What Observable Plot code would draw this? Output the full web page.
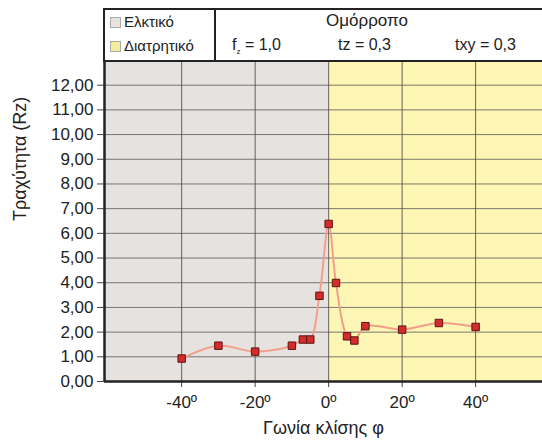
<!DOCTYPE html>
<html>
<head>
<meta charset="utf-8">
<script src="https://cdn.jsdelivr.net/npm/d3@7"></script>
<script src="https://cdn.jsdelivr.net/npm/@observablehq/plot@0.6"></script>
<style>
  html, body { margin: 0; padding: 0; background: #fff; }
  #wrap { position: relative; width: 542px; height: 441px; overflow: hidden; font-family: "Liberation Sans", Arial, sans-serif; }
  #head { position: absolute; left: 103px; top: 8px; width: 460px; height: 50px; border: 2px solid #222; background: #fff; }
  #legend { position: absolute; left: 0; top: 0; width: 109px; height: 50px; border-right: 2px solid #222; font-size: 15px; color: #222; }
  .li { position: absolute; left: 5px; height: 20px; line-height: 20px; white-space: nowrap; }
  .sw { display: inline-block; width: 9px; height: 9px; border: 1px solid #aaa; margin-right: 3px; vertical-align: -1px; }
  .ht { position: absolute; font-size: 16px; color: #222; white-space: nowrap; }
</style>
</head>
<body>
<div id="wrap"></div>
<script>
// ---- data ----
const angles = [-40, -30, -20, -10, -7, -5, -2.5, 0, 2, 5, 7, 10, 20, 30, 40];
const roughness = [0.93, 1.45, 1.21, 1.45, 1.70, 1.70, 3.47, 6.38, 3.99, 1.83, 1.66, 2.24, 2.10, 2.37, 2.21];
const yTicks = [0, 1, 2, 3, 4, 5, 6, 7, 8, 9, 10, 11, 12];
const xTicks = [-40, -20, 0, 20, 40];
const legendLabels = ["Ελκτικό", "Διατρητικό"];
const regionColors = ["#e6e2df", "#fef6b4"];
const headerTitle = "Ομόρροπο";
const yLabel = "Τραχύτητα (Rz)";
const xLabel = "Γωνία κλίσης φ";

const xDomain = [-61, 58.2];
const yDomain = [0, 13];

const pts = angles.map((a, i) => ({x: a, y: roughness[i]}));
const regions = [
  {x1: xDomain[0], x2: 0, fill: regionColors[0]},
  {x1: 0, x2: xDomain[1], fill: regionColors[1]}
];

const fmtY = d => d.toFixed(2).replace(".", ",");
const fmtX = d => d + "º";

const chart = Plot.plot({
  width: 542,
  height: 441,
  marginLeft: 104,
  marginRight: 0,
  marginTop: 60,
  marginBottom: 60,
  style: {fontFamily: "'Liberation Sans', Arial, sans-serif", fontSize: "16px", color: "#222", background: "transparent"},
  x: {domain: xDomain},
  y: {domain: yDomain},
  marks: [
    Plot.rect(regions, {x1: "x1", x2: "x2", y1: yDomain[0], y2: yDomain[1], fill: "fill"}),
    Plot.ruleY(yTicks.slice(1), {stroke: "#5a5a5a", strokeWidth: 1, strokeOpacity: 0.8}),
    Plot.ruleX(xTicks, {stroke: "#4a4a4a", strokeWidth: 1, strokeOpacity: 0.85}),
    Plot.axisY({ticks: yTicks, tickFormat: fmtY, tickSize: 7, tickPadding: 4, label: null, fontSize: 17, stroke: "#444"}),
    Plot.axisX({ticks: xTicks, tickFormat: fmtX, tickSize: 6, tickPadding: 8, label: null, fontSize: 17, stroke: "#444"}),
    Plot.ruleX([xDomain[0]], {stroke: "#222", strokeWidth: 2.5}),
    Plot.ruleY([0], {stroke: "#222", strokeWidth: 2.5}),
    Plot.line(pts, {x: "x", y: "y", curve: "catmull-rom", stroke: "#f2a08c", strokeWidth: 2}),
    Plot.dot(pts, {x: "x", y: "y", symbol: "square", r: 4.2, fill: "#d42b2b", stroke: "#5e1414", strokeWidth: 1}),
    Plot.text([yLabel], {frameAnchor: "left", dx: -84, dy: 0, rotate: -90, fontSize: 18, fill: "#222"}),
    Plot.text([xLabel], {frameAnchor: "bottom", dy: 52, fontSize: 18, fill: "#222"})
  ]
});

const wrap = document.getElementById("wrap");
wrap.appendChild(chart);
chart.style.position = "absolute";
chart.style.left = "0";
chart.style.top = "0";

const head = document.createElement("div");
head.id = "head";
head.innerHTML = `
  <div id="legend">
    <div class="li" style="top:2px"><span class="sw" style="background:${regionColors[0]}"></span>${legendLabels[0]}</div>
    <div class="li" style="top:26px"><span class="sw" style="background:#f3ec9a"></span>${legendLabels[1]}</div>
  </div>
  <div class="ht" style="left:221px;top:1px;font-size:17px">${headerTitle}</div>
  <div class="ht" style="left:127px;top:26px">f<sub style="font-size:8px">z</sub> = 1,0</div>
  <div class="ht" style="left:233px;top:26px">tz = 0,3</div>
  <div class="ht" style="left:350px;top:26px">txy = 0,3</div>
`;
wrap.appendChild(head);
</script>
</body>
</html>
